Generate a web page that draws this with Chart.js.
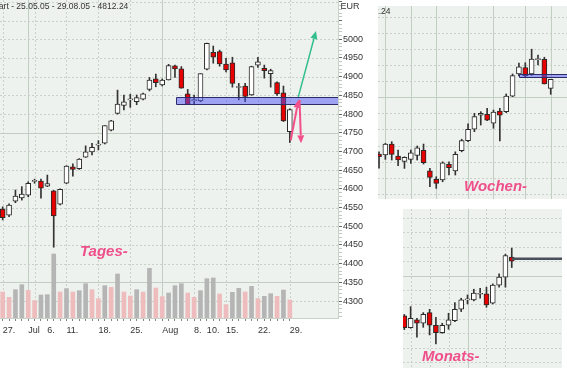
<!DOCTYPE html>
<html>
<head>
<meta charset="utf-8">
<script src="https://cdn.jsdelivr.net/npm/chart.js@4"></script>
<style>
  body { margin: 0; background: #fff; width: 567px; height: 370px; position: relative; overflow: hidden; }
  canvas { position: absolute; }
</style>
</head>
<body>
<canvas id="tageschart" style="left:0;top:0" width="370" height="345"></canvas>
<canvas id="wochenchart" style="left:378px;top:6px" width="189" height="193"></canvas>
<canvas id="monatschart" style="left:403px;top:209px" width="159" height="159"></canvas>
<script>
// DAX daily 27.06. - 29.08.2005
const dayOpen  = [4546,4530,4567,4576,4583,4620,4621,4607,4595,4559,4615,4659,4654,4685,4699,4717,4722,4757,4802,4823,4838,4833,4840,4866,4894,4878,4891,4929,4921,4854,4836,4835,4920,4965,4967,4934,4937,4871,4875,4851,4931,4922,4908,4884,4857,4753];
const dayHigh  = [4552,4560,4597,4606,4619,4626,4626,4637,4596,4600,4662,4667,4681,4715,4722,4729,4769,4783,4864,4851,4853,4851,4856,4898,4907,4894,4933,4931,4927,4866,4851,4908,4990,4982,4971,4949,4952,4882,4882,4928,4952,4931,4920,4886,4875,4814];
const dayLow   = [4517,4526,4563,4570,4579,4615,4575,4606,4444,4557,4614,4634,4652,4684,4691,4704,4720,4755,4800,4811,4818,4825,4838,4862,4873,4875,4891,4898,4869,4826,4827,4833,4918,4936,4928,4913,4872,4838,4833,4850,4925,4896,4872,4850,4780,4724];
const dayClose = [4523,4557,4581,4586,4615,4623,4602,4614,4528,4599,4661,4652,4680,4699,4711,4719,4769,4782,4827,4833,4841,4844,4854,4891,4884,4891,4930,4921,4869,4826,4839,4908,4989,4952,4934,4918,4882,4873,4847,4927,4940,4916,4916,4854,4782,4812];
// volume in mio., 1 = up (grey), 0 = down (pink)
const dayVolume   = [7.8,6.2,8.5,10.0,8.3,5.2,6.9,7.0,19.2,7.8,8.8,7.8,8.2,10.3,8.5,5.8,9.7,9.2,13.2,7.8,6.6,8.5,7.8,14.9,9.0,6.4,7.5,9.7,10.3,7.5,6.2,8.2,11.8,12.0,7.2,4.0,7.7,8.9,7.8,9.5,5.8,6.5,7.3,6.5,8.4,5.4];
const dayVolumeUp = [0,0,1,1,0,0,1,1,1,0,1,0,1,1,0,0,1,0,1,0,0,1,0,1,0,0,1,1,1,0,0,1,1,1,0,0,1,1,0,1,0,1,1,0,1,0];
const dayTickIndex  = [0,4,7,10,15,20,25,30,32,35,40,45];
const dayTickLabels = ['27.','Jul','6.','11.','18.','25.','Aug','8.','10.','15.','22.','29.'];
const dayMondays = [0,5,10,15,20,30,35,40,45];
const dayMonthStart = [4,25];

// weekly 21.02. - 29.08.2005
const weekOpen  = [4347,4341,4409,4334,4302,4314,4339,4370,4243,4190,4186,4283,4243,4368,4430,4501,4588,4594,4538,4614,4610,4707,4844,4883,4844,4933,4935,4755];
const weekHigh  = [4361,4414,4424,4372,4330,4372,4397,4409,4258,4206,4299,4299,4361,4439,4534,4600,4610,4631,4620,4631,4720,4844,4911,4914,4998,4962,4948,4811];
const weekLow   = [4260,4314,4310,4275,4258,4289,4310,4285,4144,4134,4175,4217,4217,4361,4424,4486,4527,4554,4507,4428,4604,4703,4832,4827,4836,4900,4782,4718];
const weekClose = [4330,4409,4345,4310,4327,4355,4386,4293,4202,4165,4293,4262,4345,4430,4501,4579,4600,4558,4608,4589,4707,4834,4889,4832,4937,4937,4782,4811];
const weekMonthStart = [1,5,9,14,18,23,27];

// monthly 03/2004 - 08/2005
const monthOpen  = [4040,3878,3984,3938,4086,3910,3808,3910,3975,4132,4262,4262,4340,4345,4216,4466,4577,4855];
const monthHigh  = [4060,4169,4007,4086,4132,4021,3938,4077,4225,4285,4331,4410,4424,4438,4484,4623,4896,4980];
const monthLow   = [3850,3869,3744,3882,3776,3651,3799,3855,3961,4100,4206,4248,4285,4160,4206,4438,4438,4711];
const monthClose = [3878,4007,3938,4063,3910,3808,3910,3984,4132,4262,4268,4355,4350,4193,4466,4577,4878,4800];

// support zone and trend arrows
const bandLow = 4826;
const bandHigh = 4846;
const supportLine = 4831;
const arrows = [
  {from: [46.33, 4846], to: [49.1, 5022], color: '#33bf8c', width: 1.5},
  {from: [45.14, 4730], to: [46.36, 4838], color: '#f2508a', width: 2},
  {from: [46.52, 4838], to: [46.76, 4722], color: '#f2508a', width: 2}
];

const titleText = 'Chart - 25.05.05 - 29.08.05 - 4812.24';
const font = 'Liberation Sans';
const pink = '#ef4f8a';

function range(n) { return Array.from({length: n}, (_, i) => i); }

// candles as two floating bar datasets: body + wick
function candleSets(open, high, low, close) {
  return [
    {
      data: open.map((o, i) => ({x: i, y: [o, close[i]]})),
      backgroundColor: open.map((o, i) => close[i] < o ? '#e60000' : '#ffffff'),
      borderColor: '#2a2a2a', borderWidth: 1, borderSkipped: false,
      barThickness: 5, minBarLength: 1, grouped: false
    },
    {
      data: high.map((h, i) => ({x: i, y: [low[i], h]})),
      backgroundColor: '#333333', barThickness: 1, grouped: false
    }
  ];
}

function arrow(ctx, x1, y1, x2, y2, color, w) {
  const ang = Math.atan2(y2 - y1, x2 - x1), len = 8, half = 3.5;
  const bx = x2 - len * Math.cos(ang), by = y2 - len * Math.sin(ang);
  ctx.strokeStyle = color; ctx.fillStyle = color; ctx.lineWidth = w;
  ctx.beginPath(); ctx.moveTo(x1, y1); ctx.lineTo(bx, by); ctx.stroke();
  ctx.beginPath();
  ctx.moveTo(x2, y2);
  ctx.lineTo(bx - half * Math.sin(ang), by + half * Math.cos(ang));
  ctx.lineTo(bx + half * Math.sin(ang), by - half * Math.cos(ang));
  ctx.closePath(); ctx.fill();
}

// background, grid, band, arrows and texts
const panel = {
  id: 'panel',
  beforeDraw(chart) {
    const {ctx, chartArea: a} = chart;
    ctx.save();
    ctx.fillStyle = '#eef2ee';
    ctx.fillRect(a.left, a.top, a.width, a.height);
    ctx.restore();
  },
  beforeDatasetsDraw(chart, args, opts) {
    const {ctx, chartArea: a, scales: {x, y}} = chart;
    ctx.save();
    ctx.lineWidth = 1;
    const hline = (v, dash, color) => {
      const py = Math.round(y.getPixelForValue(v)) + 0.5;
      ctx.setLineDash(dash); ctx.strokeStyle = color;
      ctx.beginPath(); ctx.moveTo(a.left, py); ctx.lineTo(a.right, py); ctx.stroke();
    };
    const vline = (v, dash, color) => {
      const px = Math.round(x.getPixelForValue(v)) + 0.5;
      ctx.setLineDash(dash); ctx.strokeStyle = color;
      ctx.beginPath(); ctx.moveTo(px, a.top); ctx.lineTo(px, a.bottom); ctx.stroke();
    };
    (opts.hDotted || []).forEach(v => hline(v, [2, 2], '#c9d1c9'));
    (opts.vDotted || []).forEach(v => vline(v, [2, 2], '#c9d1c9'));
    (opts.hSolid || []).forEach(v => hline(v, [], '#c2cec2'));
    (opts.vSolid || []).forEach(v => vline(v, [], '#c2cec2'));
    ctx.restore();
  },
  afterDatasetsDraw(chart, args, opts) {
    const {ctx, chartArea: a, scales: {x, y}} = chart;
    ctx.save();
    ctx.beginPath(); ctx.rect(a.left, a.top, a.width, a.height); ctx.clip();
    if (opts.band) {
      const x1 = Math.round(x.getPixelForValue(opts.band.from)) + 0.5;
      const y1 = Math.round(y.getPixelForValue(bandHigh)) + 0.5;
      const y2 = Math.round(y.getPixelForValue(bandLow)) + 0.5;
      ctx.fillStyle = 'rgba(76,84,246,0.5)';
      ctx.fillRect(x1, y1, a.right - x1, y2 - y1);
      ctx.strokeStyle = '#2c2c6a'; ctx.lineWidth = 1;
      ctx.beginPath();
      ctx.moveTo(a.right, y1); ctx.lineTo(x1, y1); ctx.lineTo(x1, y2); ctx.lineTo(a.right, y2);
      ctx.stroke();
    }
    if (opts.line) {
      const py = y.getPixelForValue(supportLine);
      ctx.strokeStyle = '#4a4f5c'; ctx.lineWidth = 2.5;
      ctx.beginPath(); ctx.moveTo(x.getPixelForValue(opts.line.from), py); ctx.lineTo(a.right, py); ctx.stroke();
    }
    if (opts.arrows) {
      opts.arrows.forEach(r => arrow(ctx,
        x.getPixelForValue(r.from[0]), y.getPixelForValue(r.from[1]),
        x.getPixelForValue(r.to[0]), y.getPixelForValue(r.to[1]), r.color, r.width));
    }
    ctx.restore();
  },
  afterDraw(chart, args, opts) {
    const ctx = chart.ctx;
    ctx.save();
    (opts.texts || []).forEach(t => {
      ctx.font = t.font;
      ctx.fillStyle = t.color;
      ctx.textAlign = t.align || 'left';
      ctx.textBaseline = 'alphabetic';
      ctx.fillText(t.text, t.x, t.y);
    });
    ctx.restore();
  }
};

function noPadding(s) { s.paddingLeft = 0; s.paddingRight = 0; s.paddingTop = 0; s.paddingBottom = 0; }

function hiddenAxes(xMin, xMax, yMin, yMax) {
  return {
    x: {type: 'linear', display: false, offset: false, min: xMin, max: xMax,
        ticks: {display: false}, grid: {offset: false}, afterFit: noPadding},
    y: {type: 'linear', display: false, min: yMin, max: yMax,
        ticks: {display: false}, afterFit: noPadding}
  };
}

function gridValues(from, to, step) {
  const out = [];
  for (let v = from; v <= to; v += step) out.push(v);
  return out;
}

// Tageschart
const dayIdx = range(dayOpen.length);
new Chart(document.getElementById('tageschart'), {
  type: 'bar',
  data: {
    datasets: [
      ...candleSets(dayOpen, dayHigh, dayLow, dayClose),
      {
        data: dayVolume.map((v, i) => ({x: i, y: v})),
        yAxisID: 'vol',
        backgroundColor: dayVolumeUp.map(u => u ? '#b5b5b5' : '#eebcbc'),
        barThickness: 4, grouped: false
      }
    ]
  },
  options: {
    responsive: false,
    animation: false,
    events: [],
    layout: {padding: 0},
    plugins: {
      legend: {display: false},
      tooltip: {enabled: false},
      panel: {
        hDotted: gridValues(4300, 5100, 50),
        hSolid: [4350, 4750],
        vDotted: dayMondays,
        vSolid: dayMonthStart,
        band: {from: 27.2},
        arrows: arrows,
        texts: [
          {text: titleText, x: -12, y: 8.5, font: '8.5px "' + font + '"', color: '#333'},
          {text: 'EUR', x: 340.5, y: 8.5, font: '9px "' + font + '"', color: '#333'},
          {text: 'Tages-', x: 80, y: 255.5, font: 'italic bold 15px "' + font + '"', color: pink}
        ]
      }
    },
    scales: {
      x: {
        type: 'linear', offset: false, min: -0.42, max: 52.55,
        afterBuildTicks: s => { s.ticks = dayIdx.map(v => ({value: v})); },
        afterFit: s => { s.height = 27; noPadding(s); },
        ticks: {
          autoSkip: false, maxRotation: 0, minRotation: 0, align: 'start', padding: 4,
          color: '#333', font: {family: font, size: 9},
          callback: v => { const k = dayTickIndex.indexOf(v); return k >= 0 ? dayTickLabels[k] : ''; }
        },
        grid: {offset: false, drawOnChartArea: false, tickLength: 3, color: '#7d877d'},
        border: {color: '#c8d2c8'}
      },
      y: {
        type: 'linear', position: 'right', min: 4254.8, max: 5105,
        afterBuildTicks: s => { s.ticks = gridValues(4260, 5100, 10).map(v => ({value: v})); },
        afterFit: s => { s.width = 32; noPadding(s); },
        ticks: {
          autoSkip: false, padding: 1, color: '#333', font: {family: font, size: 9},
          callback: v => (v % 50 === 0 && v >= 4300 && v <= 5000) ? String(v) : ''
        },
        grid: {
          drawOnChartArea: false, tickLength: 4,
          tickColor: c => c.tick && c.tick.value % 50 === 0 ? '#606860' : '#c0c8c0'
        },
        border: {color: '#c8d2c8'}
      },
      vol: {type: 'linear', display: false, min: 0, max: 95.4, ticks: {display: false}, afterFit: noPadding}
    }
  },
  plugins: [panel]
});

// Wochenchart
new Chart(document.getElementById('wochenchart'), {
  type: 'bar',
  data: {datasets: candleSets(weekOpen, weekHigh, weekLow, weekClose)},
  options: {
    responsive: false,
    animation: false,
    events: [],
    layout: {padding: 0},
    plugins: {
      legend: {display: false},
      tooltip: {enabled: false},
      panel: {
        hDotted: gridValues(4100, 5200, 100),
        hSolid: [4700],
        vSolid: weekMonthStart,
        band: {from: 22},
        texts: [
          {text: titleText, x: 12.5, y: 7.5, font: '8.5px "' + font + '"', color: '#333', align: 'right'},
          {text: 'Wochen-', x: 86, y: 184.7, font: 'italic bold 15px "' + font + '"', color: pink}
        ]
      }
    },
    scales: hiddenAxes(-0.16, 29.56, 4068, 5266)
  },
  plugins: [panel]
});

// Monatschart
new Chart(document.getElementById('monatschart'), {
  type: 'bar',
  data: {datasets: candleSets(monthOpen, monthHigh, monthLow, monthClose)},
  options: {
    responsive: false,
    animation: false,
    events: [],
    layout: {padding: 0},
    plugins: {
      legend: {display: false},
      tooltip: {enabled: false},
      panel: {
        hDotted: gridValues(3400, 5400, 200),
        hSolid: [4600],
        vDotted: [1, 4, 7, 13, 16],
        vSolid: [10],
        line: {from: 17},
        texts: [
          {text: 'Monats-', x: 19, y: 151.7, font: 'italic bold 15px "' + font + '"', color: pink}
        ]
      }
    },
    scales: hiddenAxes(-0.206, 24.95, 3318, 5522)
  },
  plugins: [panel]
});
</script>
</body>
</html>
